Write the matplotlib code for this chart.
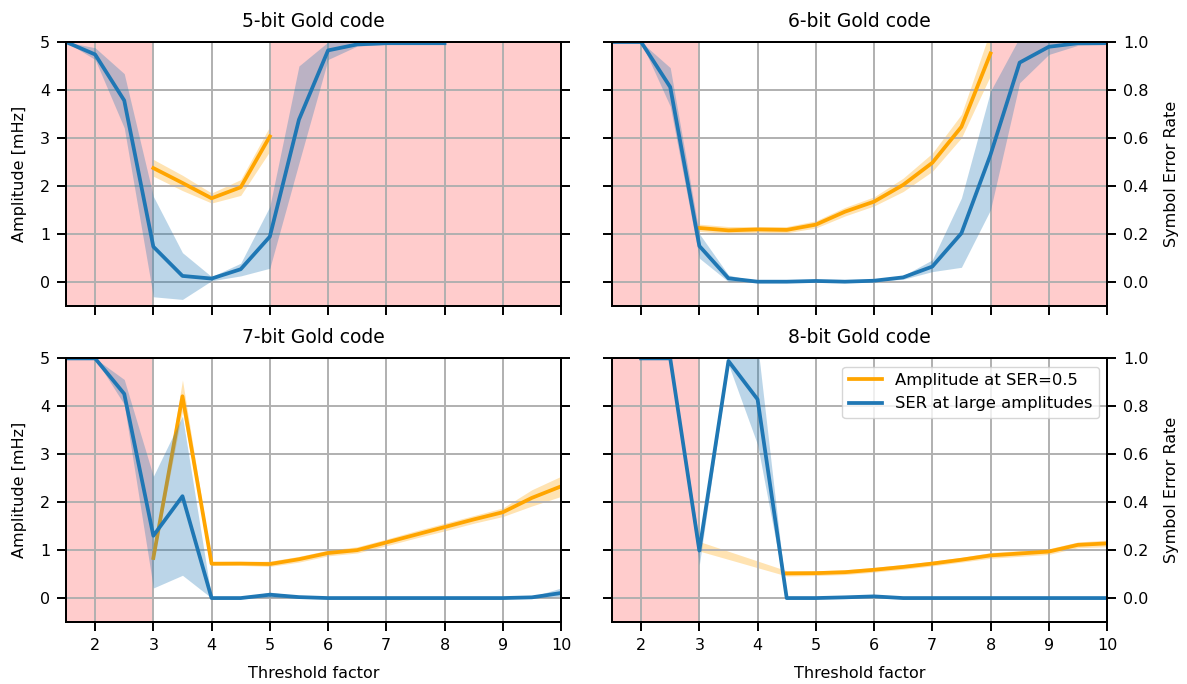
import numpy as np
import matplotlib
matplotlib.use("Agg")
import matplotlib.pyplot as plt

nan = np.nan

threshold = np.array([1.5, 2.0, 2.5, 3.0, 3.5, 4.0, 4.5, 5.0, 5.5,
                      6.0, 6.5, 7.0, 7.5, 8.0, 8.5, 9.0, 9.5, 10.0])

titles = ["5-bit Gold code", "6-bit Gold code", "7-bit Gold code", "8-bit Gold code"]

# symbol error rate at large amplitudes (mean, lower, upper)
ser_5 = [1.0, 0.948, 0.756, 0.146, 0.024, 0.013, 0.052, 0.188, 0.676, 0.965, 0.99, 0.995, 0.995, 0.995, nan, nan, nan, nan]
ser_5_lo = [1.0, 0.927, 0.642, -0.063, -0.074, 0.004, 0.024, 0.056, 0.495, 0.927, 0.983, 0.99, 0.99, 0.99, nan, nan, nan, nan]
ser_5_hi = [1.0, 0.976, 0.868, 0.356, 0.121, 0.021, 0.077, 0.314, 0.9, 1.0, 1.0, 1.0, 1.0, 1.0, nan, nan, nan, nan]

ser_6 = [1.0, 1.0, 0.812, 0.149, 0.014, 0.0, 0.0, 0.003, 0.0, 0.004, 0.018, 0.063, 0.202, 0.53, 0.914, 0.98, 0.995, 0.995]
ser_6_lo = [1.0, 1.0, 0.732, 0.098, 0.0, 0.0, 0.0, 0.001, 0.0, 0.002, 0.01, 0.042, 0.06, 0.3, 0.83, 0.948, 0.986, 0.99]
ser_6_hi = [1.0, 1.0, 0.893, 0.2, 0.028, 0.0, 0.0, 0.005, 0.0, 0.006, 0.025, 0.091, 0.349, 0.795, 1.02, 1.0, 1.0, 1.0]

ser_7 = [1.0, 1.0, 0.852, 0.26, 0.425, 0.0, 0.0, 0.014, 0.004, 0.0, 0.0, 0.0, 0.0, 0.0, 0.0, 0.0, 0.003, 0.021]
ser_7_lo = [1.0, 1.0, 0.808, 0.042, 0.095, 0.0, 0.0, 0.003, 0.0, 0.0, 0.0, 0.0, 0.0, 0.0, 0.0, 0.0, 0.0, 0.007]
ser_7_hi = [1.0, 1.0, 0.912, 0.508, 0.759, 0.0, 0.0, 0.025, 0.008, 0.0, 0.0, 0.0, 0.0, 0.0, 0.0, 0.0, 0.006, 0.042]

ser_8 = [nan, 1.0, 1.0, 0.198, 0.989, 0.829, 0.0, 0.0, 0.003, 0.007, 0.0, 0.0, 0.0, 0.0, 0.0, 0.0, 0.0, 0.0]
ser_8_lo = [nan, 1.0, 1.0, 0.139, 0.975, 0.64, 0.0, 0.0, 0.0, 0.004, 0.0, 0.0, 0.0, 0.0, 0.0, 0.0, 0.0, 0.0]
ser_8_hi = [nan, 1.0, 1.0, 0.237, 1.04, 1.06, 0.0, 0.0, 0.006, 0.01, 0.0, 0.0, 0.0, 0.0, 0.0, 0.0, 0.0, 0.0]

# amplitude [mHz] at which SER reaches 0.5 (mean, lower, upper)
amp_5 = [nan, nan, nan, 2.37, 2.06, 1.74, 1.97, 3.03, nan, nan, nan, nan, nan, nan, nan, nan, nan, nan]
amp_5_lo = [nan, nan, nan, 2.2, 1.9, 1.64, 1.8, 2.72, nan, nan, nan, nan, nan, nan, nan, nan, nan, nan]
amp_5_hi = [nan, nan, nan, 2.55, 2.22, 1.85, 2.13, 3.24, nan, nan, nan, nan, nan, nan, nan, nan, nan, nan]

amp_6 = [nan, nan, nan, 1.12, 1.07, 1.09, 1.08, 1.19, 1.46, 1.67, 2.02, 2.48, 3.23, 4.76, nan, nan, nan, nan]
amp_6_lo = [nan, nan, nan, 1.05, 1.0, 1.03, 1.02, 1.12, 1.37, 1.58, 1.88, 2.3, 3.0, 4.3, nan, nan, nan, nan]
amp_6_hi = [nan, nan, nan, 1.2, 1.15, 1.15, 1.15, 1.27, 1.55, 1.77, 2.16, 2.68, 3.49, 5.25, nan, nan, nan, nan]

amp_7 = [nan, nan, nan, 0.836, 4.21, 0.717, 0.72, 0.71, 0.81, 0.94, 1.0, 1.16, 1.32, 1.48, 1.64, 1.79, 2.09, 2.33]
amp_7_lo = [nan, nan, nan, 0.78, 3.9, 0.68, 0.68, 0.66, 0.75, 0.88, 0.94, 1.09, 1.25, 1.4, 1.56, 1.7, 1.92, 2.12]
amp_7_hi = [nan, nan, nan, 0.9, 4.55, 0.76, 0.76, 0.77, 0.87, 1.0, 1.07, 1.23, 1.4, 1.56, 1.72, 1.88, 2.26, 2.54]

amp_8 = [nan, nan, nan, 1.08, nan, nan, 0.515, 0.52, 0.54, 0.59, 0.65, 0.72, 0.8, 0.89, 0.93, 0.97, 1.11, 1.14]
amp_8_lo = [nan, nan, nan, 0.98, nan, nan, 0.46, 0.47, 0.49, 0.54, 0.6, 0.67, 0.75, 0.83, 0.87, 0.91, 1.05, 1.07]
amp_8_hi = [nan, nan, nan, 1.18, nan, nan, 0.57, 0.57, 0.59, 0.64, 0.7, 0.77, 0.85, 0.95, 0.99, 1.03, 1.17, 1.21]

# threshold ranges where the code fails
bad_ranges = [
    [(1.5, 3.0), (5.0, 10.0)],
    [(1.5, 3.0), (8.0, 10.0)],
    [(1.5, 3.0)],
    [(1.5, 3.0)],
]

ser = [(ser_5, ser_5_lo, ser_5_hi), (ser_6, ser_6_lo, ser_6_hi),
       (ser_7, ser_7_lo, ser_7_hi), (ser_8, ser_8_lo, ser_8_hi)]
amp = [(amp_5, amp_5_lo, amp_5_hi), (amp_6, amp_6_lo, amp_6_hi),
       (amp_7, amp_7_lo, amp_7_hi), (amp_8, amp_8_lo, amp_8_hi)]

plt.rcParams["font.size"] = 11.5
plt.rcParams["axes.linewidth"] = 1.4
for k in ("xtick", "ytick"):
    plt.rcParams[k + ".major.size"] = 6.5
    plt.rcParams[k + ".major.width"] = 1.4
    plt.rcParams[k + ".major.pad"] = 5
    plt.rcParams[k + ".labelsize"] = 11.5


def band(ax, x, lo, hi, **kw):
    lo = np.asarray(lo, dtype=float)
    hi = np.asarray(hi, dtype=float)
    ok = ~np.isnan(lo)
    ax.fill_between(x[ok], lo[ok], hi[ok], linewidth=0, **kw)


fig, axes = plt.subplots(2, 2, figsize=(11.87, 6.84), dpi=100, sharex=True, sharey=True)
fig.subplots_adjust(left=0.0556, right=0.9326, top=0.9386, bottom=0.0906,
                    wspace=0.103, hspace=0.2)

for i, ax in enumerate(axes.flat):
    row, col = divmod(i, 2)
    for a, b in bad_ranges[i]:
        ax.axvspan(a, b, color="red", alpha=0.2, linewidth=0)
    ax.grid(True, color="#b0b0b0", linewidth=1.4)

    a_mean, a_lo, a_hi = amp[i]
    band(ax, threshold, a_lo, a_hi, color="orange", alpha=0.3)
    l_amp, = ax.plot(threshold, a_mean, color="orange", linewidth=2.7,
                     label="Amplitude at SER=0.5")

    ax2 = ax.twinx()
    s_mean, s_lo, s_hi = ser[i]
    band(ax2, threshold, s_lo, s_hi, color="C0", alpha=0.3)
    l_ser, = ax2.plot(threshold, s_mean, color="C0", linewidth=2.7,
                      label="SER at large amplitudes")

    ax.set_xlim(1.5, 10)
    ax.set_ylim(-0.5, 5)
    ax.set_xticks(range(2, 11))
    ax.set_yticks(range(0, 6))
    ax2.set_ylim(-0.1, 1.0)
    ax2.set_yticks([0.0, 0.2, 0.4, 0.6, 0.8, 1.0])
    ax.set_title(titles[i], fontsize=13.5, pad=11)

    if col == 0:
        ax.set_ylabel("Amplitude [mHz]", fontsize=11.5, labelpad=9)
        ax2.tick_params(labelright=False)
    else:
        ax2.set_ylabel("Symbol Error Rate", fontsize=11.5, labelpad=11)
    if row == 1:
        ax.set_xlabel("Threshold factor", fontsize=11.5, labelpad=9)

    if i == 3:
        ax2.legend(handles=[l_amp, l_ser], loc="upper right", fontsize=11.8)

fig.savefig("out.png", dpi=100)
